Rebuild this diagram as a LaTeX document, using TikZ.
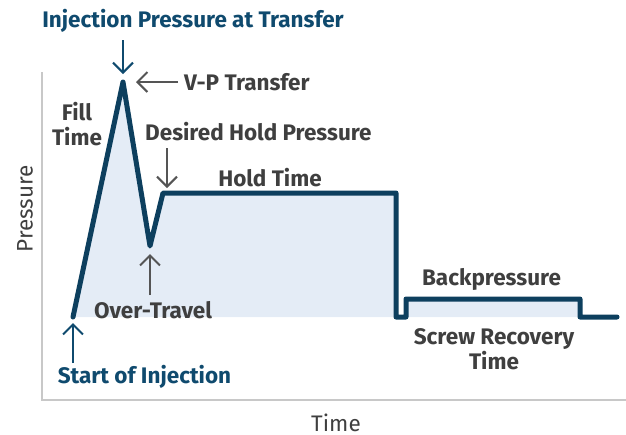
\documentclass[tikz,border=0pt]{standalone}
\usepackage{fontspec}
\setmainfont{Fira Sans}
\usetikzlibrary{arrows.meta}
\definecolor{curveblue}{HTML}{0D3F5E}
\definecolor{titleblue}{HTML}{0F4A6E}
\definecolor{fillblue}{HTML}{E4ECF6}
\definecolor{labelgray}{HTML}{3F3F3F}
\definecolor{axisgray}{HTML}{C8C8C8}
\definecolor{arrowgray}{HTML}{555555}
\begin{document}
\begin{tikzpicture}[x=1pt,y=-1pt,
  lbl/.style={font=\fontsize{22.5}{25}\selectfont\bfseries, text=labelgray, inner sep=0pt, align=center},
  ttl/.style={lbl, text=titleblue},
  axlbl/.style={font=\fontsize{22.5}{25}\selectfont, text=labelgray, inner sep=0pt},
  pointer/.style={draw=arrowgray, line width=2pt, -{Straight Barb[length=10pt,width=20pt]}},
  bluepointer/.style={pointer, draw=titleblue},
]
\useasboundingbox (0,0) rectangle (626,434);

% pressure profile vertices
\coordinate (s)  at (73,317);
\coordinate (pk) at (123,82);
\coordinate (ot) at (150,246);
\coordinate (h1) at (163,193);
\coordinate (h2) at (396,193);
\coordinate (d1) at (396,317);
\coordinate (d2) at (406,317);
\coordinate (b1) at (406,299);
\coordinate (b2) at (580,299);
\coordinate (b3) at (580,317);
\coordinate (e)  at (617,317);

% axes
\coordinate (ytop)   at (42,72);
\coordinate (origin) at (42,400);
\coordinate (xend)   at (626,400);

% shaded area under the profile
\fill[fillblue] (s) -- (pk) -- (ot) -- (h1) -- (h2) -- (d1) -- (d2) -- (b1) -- (b2) -- (b3) -- cycle;

\draw[axisgray, line width=2pt] (ytop) -- (origin) -- (xend);

% profile
\draw[curveblue, line width=5pt, line join=round, line cap=round]
  (s) -- (pk) -- (ot) -- (h1) -- (h2) -- (d1) -- (d2) -- (b1) -- (b2) -- (b3) -- (e);

% labels
\node[ttl] (ipt) at (193,21) {Injection Pressure at Transfer};
\node[lbl, anchor=west] (vp) at (184,82) {V-P Transfer};
\node[lbl] (fill) at (77,124) {Fill\\Time};
\node[lbl, anchor=west] (dhp) at (145,132) {Desired Hold Pressure};
\node[lbl] (hold) at (270,178) {Hold Time};
\node[lbl] (over) at (153,310) {Over-Travel};
\node[ttl] (soi) at (144.5,377) {Start of Injection};
\node[lbl] (back) at (491.5,279) {Backpressure};
\node[lbl] (screw) at (494,349.5) {Screw Recovery\\Time};
\node[axlbl, rotate=90] (ylab) at (25,209) {Pressure};
\node[axlbl] (xlab) at (336,423) {Time};

% pointers
\coordinate (iptTail) at (123,40);  \coordinate (iptTip) at (123,74);
\coordinate (vpTail)  at (178,82);  \coordinate (vpTip)  at (136,82);
\coordinate (dhpTail) at (167,148); \coordinate (dhpTip) at (167,188);
\coordinate (otTail)  at (150,295); \coordinate (otTip)  at (150,254);
\coordinate (soiTail) at (73,363);  \coordinate (soiTip) at (73,323);

\draw[bluepointer] (iptTail) -- (iptTip);
\draw[pointer] (vpTail) -- (vpTip);
\draw[pointer] (dhpTail) -- (dhpTip);
\draw[pointer] (otTail) -- (otTip);
\draw[bluepointer] (soiTail) -- (soiTip);
\end{tikzpicture}
\end{document}
